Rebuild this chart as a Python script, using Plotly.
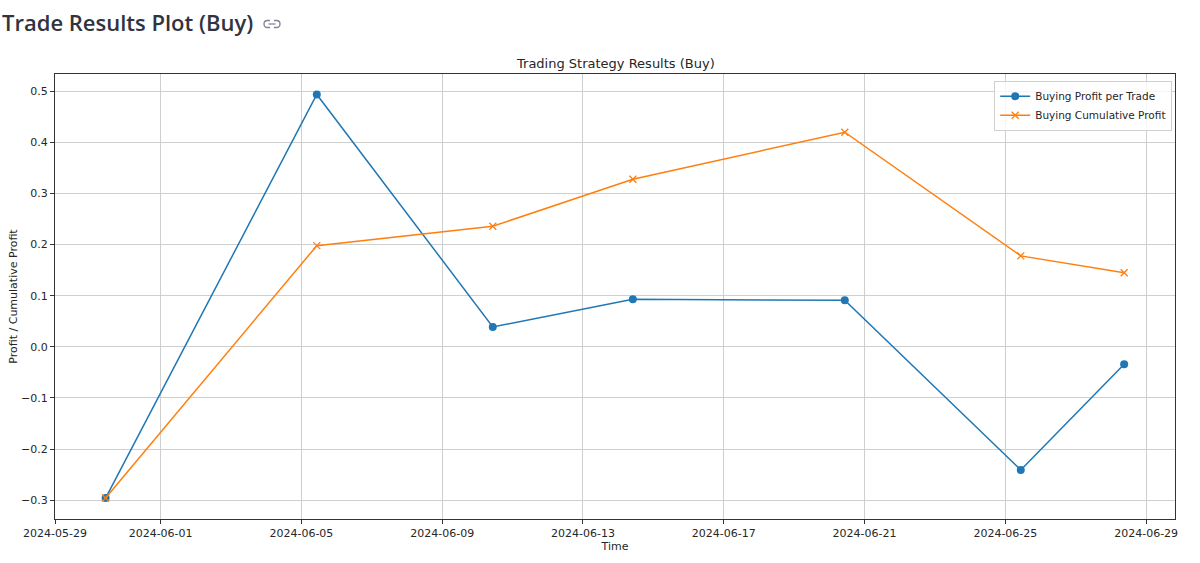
import plotly.graph_objects as go

# trade data
trade_times = ["2024-05-30 10:30", "2024-06-05 10:30", "2024-06-10 10:30", "2024-06-14 10:00",
               "2024-06-20 10:30", "2024-06-25 10:30", "2024-06-28 09:00"]
profit_per_trade = [-0.296, 0.494, 0.039, 0.093, 0.091, -0.241, -0.034]
cumulative_profit = [-0.296, 0.198, 0.236, 0.328, 0.420, 0.178, 0.145]

date_ticks = ["2024-05-29", "2024-06-01", "2024-06-05", "2024-06-09", "2024-06-13",
              "2024-06-17", "2024-06-21", "2024-06-25", "2024-06-29"]

W, H = 1200, 563
L, R, T, B = 55, 25, 74, 44
pw, ph = W - L - R, H - T - B

def px(x):
    return (x - L) / pw

def py(y):
    return (H - B - y) / ph

def link_half(x_open, x_round, y0, y1):
    # a "C"-shaped loop, open at x_open, rounded at x_round (pixel coords)
    r = (y1 - y0) / 2
    s = 1 if x_round > x_open else -1
    xs = x_round - s * r
    return (f"M {px(x_open)},{py(y0)} L {px(xs)},{py(y0)} "
            f"Q {px(x_round)},{py(y0)} {px(x_round)},{py(y0 + r)} "
            f"Q {px(x_round)},{py(y1)} {px(xs)},{py(y1)} L {px(x_open)},{py(y1)}")

mpl_font = "DejaVu Sans"

fig = go.Figure()
fig.add_trace(go.Scatter(x=trade_times, y=profit_per_trade, mode="lines+markers",
                         name="Buying Profit per Trade",
                         line=dict(color="#1f77b4", width=1.5),
                         marker=dict(symbol="circle", size=8, color="#1f77b4")))
fig.add_trace(go.Scatter(x=trade_times, y=cumulative_profit, mode="lines+markers",
                         name="Buying Cumulative Profit",
                         line=dict(color="#ff7f0e", width=1.5),
                         marker=dict(symbol="x-thin", size=7, line=dict(color="#ff7f0e", width=1.3))))

fig.update_layout(
    width=W, height=H,
    margin=dict(l=L, r=R, t=T, b=B, autoexpand=False),
    paper_bgcolor="white", plot_bgcolor="white",
    font=dict(family=mpl_font, size=11, color="#262626"),
    showlegend=True,
    legend=dict(x=0.9975, y=0.985, xanchor="right", yanchor="top",
                bgcolor="rgba(255,255,255,0.8)", bordercolor="#d0d0d0", borderwidth=1,
                font=dict(family=mpl_font, size=10.5), tracegroupgap=0, itemwidth=30),
)

fig.update_xaxes(
    type="date",
    range=["2024-05-29 00:00", "2024-06-29 19:40"],
    tickmode="array", tickvals=date_ticks, ticktext=date_ticks,
    showgrid=True, gridcolor="#cfcfcf", gridwidth=1,
    showline=True, linecolor="#333333", linewidth=1.2, mirror=True,
    ticks="outside", ticklen=4, tickcolor="#333333",
    zeroline=False,
    title=dict(text="Time", font=dict(size=11), standoff=1),
)
fig.update_yaxes(
    range=[-0.337, 0.534],
    tick0=0, dtick=0.1, tickformat=".1f",
    showgrid=True, gridcolor="#cfcfcf", gridwidth=1,
    showline=True, linecolor="#333333", linewidth=1.2, mirror=True,
    ticks="outside", ticklen=4, tickcolor="#333333",
    zeroline=False,
    title=dict(text="Profit / Cumulative Profit", font=dict(size=11), standoff=1),
)

# axes title
fig.add_annotation(text="Trading Strategy Results (Buy)", xref="paper", yref="paper",
                   x=0.5, y=py(63), xanchor="center", yanchor="middle", showarrow=False,
                   font=dict(family=mpl_font, size=13, color="#262626"))

# page header
fig.add_annotation(text="Trade Results Plot (Buy)", xref="paper", yref="paper",
                   x=px(0), y=py(22), xanchor="left", yanchor="middle", showarrow=False,
                   font=dict(family="Open Sans", size=22, color="#31333f", weight=600))

# link icon next to header
icon = dict(color="#808495", width=1.3)
fig.add_shape(type="path", xref="paper", yref="paper", path=link_half(270, 264, 20.5, 27.5), line=icon)
fig.add_shape(type="path", xref="paper", yref="paper", path=link_half(274, 280, 20.5, 27.5), line=icon)
fig.add_shape(type="line", xref="paper", yref="paper", x0=px(268.5), x1=px(275.5), y0=py(24), y1=py(24), line=icon)

fig.write_html("out.html", config={"displayModeBar": False},
               post_script="document.body.style.margin='0';")
